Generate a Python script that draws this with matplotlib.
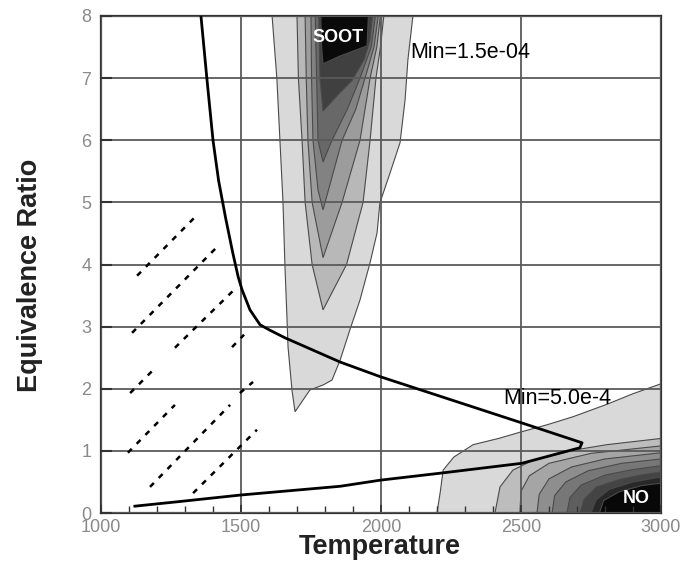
import matplotlib
matplotlib.use("Agg")
import matplotlib.pyplot as plt
from matplotlib.ticker import MultipleLocator

plt.rcParams['font.family'] = ['Liberation Sans', 'DejaVu Sans']

# heavy black path (temperature, equivalence ratio)
path_T = [1357, 1378, 1400, 1420, 1445, 1470, 1490, 1504, 1532, 1568, 1600, 1657, 1854, 2000,
          2503, 2718, 2710, 2503, 2210, 2000, 1854, 1500, 1271, 1121]
path_phi = [8.0, 7.0, 6.0, 5.35, 4.75, 4.2, 3.8, 3.59, 3.27, 3.03, 2.95, 2.82, 2.43, 2.19,
            1.45, 1.13, 1.05, 0.80, 0.64, 0.53, 0.43, 0.29, 0.18, 0.11]

# dashed diagonal segments: start and end points
dash_T0 = [1129, 1111, 1264, 1104, 1468, 1096, 1175, 1496, 1329]
dash_phi0 = [3.82, 2.90, 2.66, 1.93, 2.67, 0.97, 0.42, 1.93, 0.32]
dash_T1 = [1346, 1414, 1486, 1186, 1511, 1264, 1461, 1543, 1557]
dash_phi1 = [4.81, 4.28, 3.64, 2.30, 2.87, 1.74, 1.74, 2.11, 1.34]

# soot contour boundaries, outermost first
soot_T = [
    [1611, 1628, 1650, 1657, 1664, 1668, 1682, 1693, 1746, 1793, 1825, 1854, 1889,
     1925, 1961, 1986, 1996, 2032, 2068, 2086, 2096, 2114],
    [1700, 1705, 1718, 1729, 1754, 1793, 1877, 1936, 1961, 1982, 1998, 2010],
    [1729, 1733, 1739, 1754, 1793, 1861, 1925, 1961, 1985, 1998],
    [1750, 1752, 1757, 1775, 1793, 1861, 1910, 1943, 1975, 1990],
    [1765, 1770, 1775, 1793, 1825, 1880, 1925, 1965, 1980],
    [1778, 1782, 1793, 1850, 1896, 1940, 1960, 1970],
    [1785, 1788, 1793, 1850, 1950, 1955],
]
soot_phi = [
    [8, 7, 5, 3.96, 3.16, 2.67, 1.98, 1.63, 1.98, 2.06, 2.14, 2.46, 2.95,
     3.43, 4.03, 4.51, 4.99, 5.47, 5.96, 6.65, 7.29, 8],
    [8, 7, 6, 5, 4, 3.27, 4, 5, 6, 7, 7.5, 8],
    [8, 7, 6, 5, 4.11, 5, 6, 7, 7.5, 8],
    [8, 7, 6, 5.2, 4.88, 6, 6.5, 7, 7.5, 8],
    [8, 7, 6, 5.65, 6, 6.5, 7, 7.5, 8],
    [8, 7, 6.47, 6.75, 6.96, 7.3, 7.6, 8],
    [8, 7.5, 7.23, 7.35, 7.52, 8],
]
soot_grey = ['#d9d9d9', '#b8b8b8', '#9c9c9c', '#828282', '#686868', '#404040', '#0a0a0a']

# NO contour boundaries, outermost first
no_T = [
    [2200, 2212, 2222, 2260, 2329, 2420, 2496, 2593, 2686, 2807, 2900, 3000, 3000],
    [2407, 2425, 2471, 2543, 2686, 2807, 3000, 3000],
    [2496, 2500, 2530, 2600, 2750, 3000, 3000],
    [2557, 2565, 2600, 2680, 2800, 3000, 3000],
    [2611, 2620, 2660, 2740, 2860, 3000, 3000],
    [2664, 2675, 2715, 2800, 2900, 3000, 3000],
    [2711, 2725, 2770, 2860, 2940, 3000, 3000],
    [2750, 2768, 2815, 2900, 3000, 3000],
    [2780, 2795, 2850, 2930, 3000, 3000],
]
no_phi = [
    [0, 0.35, 0.69, 0.9, 1.1, 1.2, 1.3, 1.42, 1.55, 1.75, 1.92, 2.08, 0],
    [0, 0.42, 0.69, 0.85, 1.01, 1.10, 1.20, 0],
    [0, 0.35, 0.6, 0.8, 0.96, 1.08, 0],
    [0, 0.3, 0.55, 0.74, 0.87, 0.97, 0],
    [0, 0.28, 0.5, 0.68, 0.8, 0.87, 0],
    [0, 0.25, 0.45, 0.61, 0.7, 0.76, 0],
    [0, 0.22, 0.42, 0.55, 0.62, 0.66, 0],
    [0, 0.21, 0.38, 0.5, 0.58, 0],
    [0, 0.2, 0.34, 0.44, 0.48, 0],
]
no_grey = ['#d9d9d9', '#bdbdbd', '#a5a5a5', '#8e8e8e', '#777777', '#5e5e5e', '#444444', '#282828', '#080808']

fig = plt.figure(figsize=(6.81, 5.63), dpi=100)
ax = fig.add_axes([101 / 681, 50 / 563, 560 / 681, 497 / 563])

for T, phi, c in zip(soot_T, soot_phi, soot_grey):
    ax.fill(T, phi, facecolor=c, edgecolor='#4a4a4a', linewidth=0.8, zorder=1)
for T, phi, c in zip(no_T, no_phi, no_grey):
    ax.fill(T, phi, facecolor=c, edgecolor='#4a4a4a', linewidth=0.8, zorder=1)

ax.plot(path_T, path_phi, color='black', linewidth=2.0, zorder=3)
for t0, p0, t1, p1 in zip(dash_T0, dash_phi0, dash_T1, dash_phi1):
    ax.plot([t0, t1], [p0, p1], color='black', linewidth=1.8, dashes=(2.2, 2.8), zorder=3)

ax.text(1846, 7.65, 'SOOT', color='white', fontsize=13, fontweight='bold',
        ha='center', va='center', zorder=4)
ax.text(2104, 7.41, 'Min=1.5e-04', color='black', fontsize=15.5, ha='left', va='center', zorder=4)
ax.text(2436, 1.85, 'Min=5.0e-4', color='black', fontsize=15.5, ha='left', va='center', zorder=4)
ax.text(2911, 0.24, 'NO', color='white', fontsize=13, fontweight='bold',
        ha='center', va='center', zorder=4)

ax.set_xlim(1000, 3000)
ax.set_ylim(0, 8)
ax.xaxis.set_major_locator(MultipleLocator(500))
ax.xaxis.set_minor_locator(MultipleLocator(100))
ax.yaxis.set_major_locator(MultipleLocator(1))
ax.set_axisbelow(False)
ax.grid(True, which='major', color='#5a5a5a', linewidth=1.3)
ax.tick_params(axis='x', which='major', direction='in', length=6, width=1.3, color='#333333',
               labelsize=13, labelcolor='#8a8a8a', pad=4)
ax.tick_params(axis='x', which='minor', direction='in', length=5, width=1.0, color='#333333')
ax.tick_params(axis='y', which='major', direction='in', length=8, width=1.5, color='#333333',
               labelsize=13, labelcolor='#8a8a8a', pad=7)
for s in ax.spines.values():
    s.set_linewidth(1.6)
    s.set_color('#333333')

fig.text(380 / 681, 1 - 547 / 563, 'Temperature', fontsize=19.5, fontweight='bold',
         color='#222222', ha='center', va='center')
fig.text(30 / 681, 1 - 275 / 563, 'Equivalence Ratio', fontsize=19.5, fontweight='bold',
         color='#222222', ha='center', va='center', rotation=90)

fig.savefig('out.png', dpi=100)
